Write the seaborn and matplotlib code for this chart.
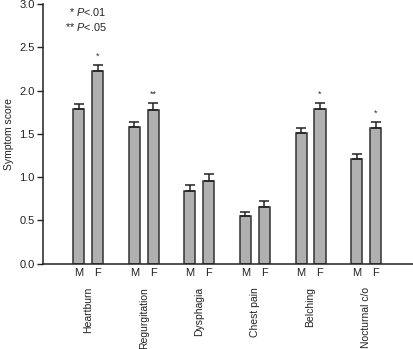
import matplotlib
matplotlib.use("Agg")
import matplotlib.pyplot as plt
import seaborn as sns
import pandas as pd
import numpy as np

categories = ["Heartburn", "Regurgitation", "Dysphagia", "Chest pain", "Belching", "Nocturnal c/o"]
sexes = ["M", "F"]
male_scores = [1.79, 1.58, 0.845, 0.548, 1.51, 1.21]
female_scores = [2.23, 1.78, 0.957, 0.66, 1.79, 1.57]
male_err = [0.06, 0.06, 0.062, 0.052, 0.06, 0.06]
female_err = [0.06, 0.08, 0.078, 0.07, 0.07, 0.07]
female_sig = ["*", "**", "", "", "*", "*"]
male_sig = ["", "", "", "", "", ""]
y_ticks = [0.0, 0.5, 1.0, 1.5, 2.0, 2.5, 3.0]
legend_lines = [r"*$\ \mathit{P}$<.01", r"**$\ \mathit{P}$<.05"]

sns.set_style("ticks")
plt.rcParams['font.family'] = ['Liberation Sans', 'DejaVu Sans']
plt.rcParams['mathtext.fontset'] = 'custom'
plt.rcParams['mathtext.it'] = 'Liberation Sans:italic'
plt.rcParams['mathtext.rm'] = 'Liberation Sans'

df = pd.DataFrame({
    "category": categories * 2,
    "sex": ["M"] * 6 + ["F"] * 6,
    "score": male_scores + female_scores,
})

fig = plt.figure(figsize=(4.14, 3.49), dpi=100)
ax = fig.add_axes([43/414, 1 - 263.7/349, 1 - 43/414, (263.7 - 4)/349])

sns.barplot(data=df, x="category", y="score", hue="sex", order=categories,
            hue_order=sexes, palette=["#b0b0b0", "#b0b0b0"], width=0.68, gap=0.41,
            edgecolor="#333333", linewidth=1.1, errorbar=None, legend=False, ax=ax)

txt = "#222222"
errs = [male_err, female_err]
sigs = [male_sig, female_sig]
bar_containers = list(ax.containers)
for k, cont in enumerate(bar_containers):
    for i, p in enumerate(cont.patches):
        cx = p.get_x() + p.get_width() / 2
        h = p.get_height()
        e = errs[k][i]
        ax.errorbar(cx, h, yerr=[[0], [e]], fmt="none", ecolor=txt,
                    elinewidth=1.1, capsize=3.6, capthick=1.1, zorder=3)
        if sigs[k][i]:
            ax.text(cx, h + e + 0.05, sigs[k][i], ha="center", va="bottom",
                    fontsize=6.5, color="#333333")
        ax.text(cx, -0.05, sexes[k], ha="center", va="top", fontsize=8,
                color=txt, clip_on=False)

for i, c in enumerate(categories):
    ax.text(i, -0.27, c, ha="center", va="top", rotation=90, fontsize=7.5,
            color=txt, clip_on=False)

ax.set_xlim(-0.81, 5.86)
ax.set_ylim(0, 3.0)
ax.set_yticks(y_ticks)
ax.set_yticklabels([f"{t:.1f}" for t in y_ticks], fontsize=8, color=txt)
ax.set_xticks([])
ax.set_xlabel("")
ax.set_ylabel("Symptom score", fontsize=7.5, color=txt, labelpad=4)
ax.tick_params(axis="y", length=4, width=1, color=txt, pad=2)
for s in ["top", "right"]:
    ax.spines[s].set_visible(False)
for s in ["left", "bottom"]:
    ax.spines[s].set_color(txt)
    ax.spines[s].set_linewidth(1.1)

ax.text(0.33, 2.91, legend_lines[0], fontsize=7.8, ha="right", va="center", color=txt)
ax.text(0.33, 2.73, legend_lines[1], fontsize=7.8, ha="right", va="center", color=txt)

fig.savefig("out.png", dpi=100)
